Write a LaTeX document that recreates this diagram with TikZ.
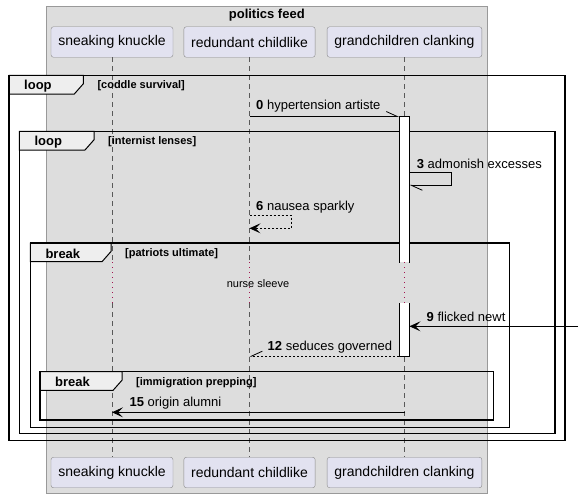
\documentclass[tikz,border=0pt]{standalone}
\usepackage{fontspec}
\setmainfont{Liberation Sans}
\usetikzlibrary{arrows.meta}
\definecolor{feedgrey}{HTML}{DDDDDD}
\definecolor{feedline}{HTML}{999999}
\definecolor{partfill}{HTML}{E2E2F0}
\definecolor{partline}{HTML}{888888}
\definecolor{tabgrey}{HTML}{EEEEEE}
\definecolor{delayred}{HTML}{A3154F}

\begin{document}
\begin{tikzpicture}[x=1pt, y=-1pt,
  part/.style={draw=partline, fill=partfill, rounded corners=2.5pt,
               font=\fontsize{14}{16}\selectfont, minimum height=30.5pt, inner xsep=7.3pt},
  lifeline/.style={draw=black!65, line width=0.7pt, dash pattern=on 5pt off 4pt},
  delay/.style={draw=delayred, line width=1pt, dash pattern=on 1pt off 4pt},
  frame/.style={draw, line width=1.5pt},
  tab/.style={draw, fill=tabgrey, line width=1pt},
  kind/.style={font=\bfseries\fontsize{13}{15}\selectfont, anchor=west, inner sep=0pt},
  cond/.style={font=\bfseries\fontsize{11}{13}\selectfont, anchor=west, inner sep=0pt},
  bar/.style={fill=white, minimum width=10pt, inner sep=0pt},
  msg/.style={line width=0.8pt, -{Stealth[length=11pt, width=10pt, inset=5pt]}},
  half/.style={line width=0.8pt, -{Straight Barb[#1, length=11pt, width=10pt]}},
  ret/.style={dash pattern=on 2pt off 2pt},
  lab/.style={font=\fontsize{13}{15}\selectfont, anchor=west, inner sep=0pt}
]
\useasboundingbox (0,0) rectangle (580,498);
% group box
\draw[feedline, fill=feedgrey] (46.3,6) rectangle (487.3,493.3);
\node[font=\bfseries\fontsize{13}{15}\selectfont] (feed) at (266.8,15) {politics feed};
% participants, top and bottom
\node[part] (sk) at (112,42) {sneaking knuckle};
\node[part] (rc) at (249.5,42) {redundant childlike};
\node[part] (gc) at (404.5,42) {grandchildren clanking};
\node[part] (skb) at (112,472.5) {sneaking knuckle};
\node[part] (rcb) at (249.5,472.5) {redundant childlike};
\node[part] (gcb) at (404.5,472.5) {grandchildren clanking};
% lifelines, broken by the delay
\coordinate (dtop) at (0,262.3);
\coordinate (dbot) at (0,303.3);
\foreach \p in {sk,rc,gc} {
  \draw[lifeline] (\p.south) -- (\p.south |- dtop);
  \draw[delay] (\p.south |- dtop) -- (\p.south |- dbot);
  \draw[lifeline] (\p.south |- dbot) -- (\p b.north);
}
% frames
\foreach \fl/\ft/\fr/\fb/\tr/\kd/\cd [count=\i] in {
    9/75.3/565/440.7/83.3/loop/coddle survival,
    19.3/131.3/555/433.3/94/loop/internist lenses,
    30.3/243/509.3/427.3/111/break/patriots ultimate,
    40/371.7/493.5/420/122/break/immigration prepping} {
  \draw[tab] (\fl,\ft) -- (\tr,\ft) -- (\tr,\ft+8.5) -- (\tr-9,\ft+18.7) -- (\fl,\ft+18.7) -- cycle;
  \draw[frame] (\fl,\ft) rectangle (\fr,\fb);
  \node[kind] (kind\i) at (\fl+15,\ft+10.5) {\kd};
  \node[cond] (cond\i) at (\tr+14,\ft+10.5) {[\cd]};
}
% activation of grandchildren clanking
\node[bar, minimum height=145.6pt] (act1) at (404.3,189.5) {};
\node[bar, minimum height=52.7pt] (act2) at (404.3,329.65) {};
\draw[line width=0.8pt] (act1.south west) -- (act1.north west) -- (act1.north east) -- (act1.south east);
\draw[line width=0.8pt] (act2.north west) -- (act2.south west) -- (act2.south east) -- (act2.north east);
% messages
\draw[half=left] (rc |- act1.north) -- (act1.north west);
\draw[half=left] (act1.east |- 0,172.7) -- ++(42,0) -- ++(0,12.6) -- (act1.east |- 0,185.3);
\draw[msg, ret] (rc |- 0,215.3) -- ++(41.8,0) -- ++(0,13) -- (rc |- 0,228.3);
\coordinate (edge9) at (578,326.3);
\draw[msg] (edge9) -- (act2.east |- edge9);
\draw[half=right, ret] (act2.south west) -- (rc |- act2.south);
\draw[msg] (gc |- 0,412.3) -- (sk |- 0,412.3);
% labels
\node[lab] (l0) at (256,106) {\textbf{0} hypertension artiste};
\node[lab] (l3) at (416.7,163.5) {\textbf{3} admonish excesses};
\node[lab] (l6) at (256,206.7) {\textbf{6} nausea sparkly};
\node[font=\fontsize{11}{13}\selectfont] (nurse) at (258,283.3) {nurse sleeve};
\node[lab] (l9) at (426.5,316.7) {\textbf{9} flicked newt};
\node[lab] (l12) at (267.5,347) {\textbf{12} seduces governed};
\node[lab] (l15) at (129.4,402.7) {\textbf{15} origin alumni};
\end{tikzpicture}
\end{document}
